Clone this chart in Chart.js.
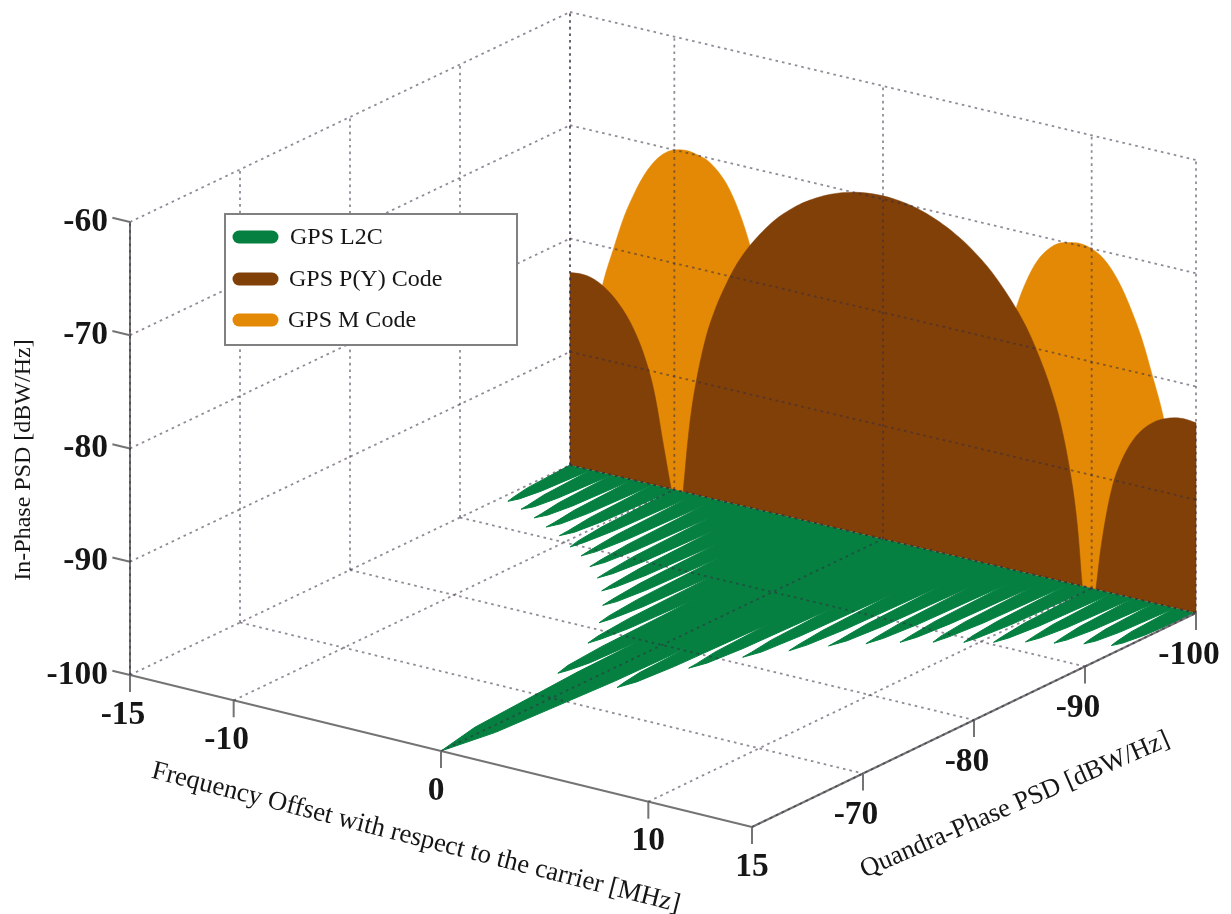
<!DOCTYPE html>
<html><head><meta charset="utf-8">
<style>html,body{margin:0;padding:0;background:#fff}canvas{display:block;filter:blur(0.45px)}</style>
<script src="https://cdn.jsdelivr.net/npm/chart.js@4"></script>
</head><body><canvas id="c" width="1231" height="914"></canvas>
<script>
// ---- tick values ----
const freqTicks = [-15, -10, 0, 10, 15];
const quadTicks = [-60, -70, -80, -90, -100];
const inPhaseTicks = [-60, -70, -80, -90, -100];
const quadLabels = [-70, -80, -90, -100];

// ---- GPS P(Y) Code: on the wall Quadra = -100 ----
const pyFreq = [-15,-15,-14.97,-14.5,-14,-13.5,-13,-12.5,-12,-11.5,-11,-10.5,-10.15,-10.13,-9.6,-9.58,-9.3,-9,-8.5,-8,-7.5,-7,-6.5,-6,-5.5,-5,-4.5,-4,-3.5,-3,-2.5,-2,-1.5,-1,-0.5,0,0.5,1,1.5,2,2.5,3,3.5,4,4.5,5,5.5,6,6.5,7,7.5,8,8.5,9,9.3,9.55,9.57,10.18,10.2,10.5,11,11.5,12,12.5,13,13.5,14,14.5,14.97,15,15];
const pyPsd  = [-100,-83,-83,-82.9,-83,-83.4,-84.1,-85.1,-86.5,-88.5,-91.5,-96.5,-100,-100,-100,-100,-94.5,-90.5,-86,-83,-80.7,-78.75,-77.2,-75.9,-74.75,-73.75,-72.93,-72.2,-71.6,-71.08,-70.65,-70.3,-70.03,-69.85,-69.74,-69.7,-69.74,-69.85,-70.03,-70.3,-70.65,-71.08,-71.6,-72.2,-72.93,-73.75,-74.75,-75.9,-77.2,-78.75,-80.7,-83,-86,-90.5,-94.5,-100,-100,-100,-100,-95.5,-90.5,-87.8,-86,-84.8,-84,-83.5,-83.2,-83.1,-83.2,-83.2,-100];

// ---- GPS M Code: on the same wall ----
const mFreq = [-15,-14.4,-13.9,-13.4,-12.9,-12.4,-11.9,-11.4,-10.9,-10.4,-9.9,-9.4,-8.9,-8.4,-7.9,-7.4,-6.9,-6.4,-5.9,-5.4,-5,5,5.4,5.9,6.4,6.9,7.4,7.9,8.4,8.9,9.4,9.9,10.4,10.9,11.4,11.9,12.4,12.9,13.4,13.9,14.4,15];
const mPsd  = [-100,-93,-87.5,-83.1,-79.9,-76.9,-74.6,-72.7,-71.3,-70.4,-69.95,-69.8,-69.95,-70.25,-71,-72.2,-74.1,-76.7,-80.3,-87,-100,-100,-87,-80.3,-76.7,-74.1,-72.2,-71,-70.25,-69.95,-69.8,-69.95,-70.4,-71.3,-72.7,-74.6,-76.9,-79.9,-83.1,-87.5,-93,-100];

// ---- GPS L2C: in the floor plane In-Phase = -100, one row per side lobe ----
const l2cFreq = [
-15,-14.83,-14.65,-14.55,-14.35,-14.17,
-14,-13.83,-13.65,-13.6,-13.35,-13.17,
-13,-12.83,-12.65,-12.6,-12.35,-12.17,
-12,-11.83,-11.65,-11.6,-11.35,-11.17,
-11,-10.83,-10.65,-10.6,-10.35,-10.17,
-10,-9.83,-9.65,-9.5,-9.35,-9.17,
-9,-8.83,-8.65,-8.55,-8.35,-8.17,
-8,-7.83,-7.65,-7.55,-7.35,-7.17,
-7,-6.83,-6.65,-6.55,-6.35,-6.17,
-6,-5.83,-5.65,-5.55,-5.35,-5.17,
-5,-4.83,-4.65,-4.55,-4.35,-4.17,
-4,-3.83,-3.65,-3.5,-3.35,-3.17,
-3,-2.83,-2.65,-2.5,-2.35,-2.17,
-2,-1.83,-1.65,-1.45,-1.3,-1.12,
-1,-0.9,-0.5,0,0.5,0.9,
1,1.12,1.3,1.4,1.65,1.83,
2,2.17,2.35,2.4,2.65,2.83,
3,3.17,3.35,3.4,3.65,3.83,
4,4.17,4.35,4.45,4.65,4.83,
5,5.17,5.35,5.4,5.65,5.83,
6,6.17,6.35,6.45,6.65,6.83,
7,7.17,7.35,7.45,7.65,7.83,
8,8.17,8.35,8.5,8.65,8.83,
9,9.17,9.35,9.5,9.65,9.83,
10,10.17,10.35,10.45,10.65,10.83,
11,11.17,11.35,11.45,11.65,11.83,
12,12.17,12.35,12.45,12.65,12.83,
13,13.17,13.35,13.45,13.65,13.83,
14,14.17,14.35,14.45,14.65,14.83,
15];
const l2cPsd = [
-100,-95.8,-94.15,-93.5,-94.15,-95.8,
-100,-95.4,-93.6,-92.9,-93.6,-95.4,
-99.9,-94.9,-92.97,-92.2,-92.97,-94.9,
-99.9,-94.4,-92.25,-91.4,-92.25,-94.4,
-99.9,-93.9,-91.6,-90.7,-91.6,-93.8,
-99.5,-93.1,-90.6,-89.6,-90.6,-93.1,
-99.5,-92.5,-89.9,-88.8,-89.8,-92.4,
-99,-91.7,-88.8,-87.7,-88.7,-91.2,
-97.6,-90.4,-87.6,-86.5,-87.5,-89.9,
-96.1,-88.9,-86.1,-85,-85.9,-88.3,
-94.4,-87.1,-84.3,-83.2,-84.1,-86.5,
-92.7,-85,-82.1,-80.9,-81.8,-84.2,
-90.4,-82.3,-79.2,-78,-78.9,-81,
-86.6,-78,-74.6,-73.3,-74,-75.6,
-80,-74,-64,-60,-64,-74,
-80.6,-75.9,-74,-73.3,-74.6,-77.7,
-85.9,-80.7,-78.7,-77.9,-79.1,-82,
-89.6,-83.9,-81.8,-80.9,-82.1,-85.3,
-93.4,-86.7,-84.1,-83.1,-84.4,-87.5,
-95.75,-88.7,-86,-84.9,-86.1,-89,
-96.7,-89.9,-87.3,-86.3,-87.5,-90.4,
-98,-91.2,-88.6,-87.5,-88.6,-91.4,
-98.6,-92,-89.5,-88.5,-89.6,-92.4,
-99.6,-93,-90.4,-89.4,-90.4,-92.9,
-99.3,-93.5,-91.2,-90.3,-91.3,-93.7,
-99.9,-94.3,-92.2,-91.3,-92.2,-94.3,
-100,-94.8,-92.8,-92,-92.8,-94.8,
-100,-95.3,-93.5,-92.8,-93.5,-95.3,
-100,-95.7,-94.05,-93.4,-94.05,-95.7,
-100];

const seriesNames = ['GPS L2C', 'GPS P(Y) Code', 'GPS M Code'];
const seriesColors = ['#058040', '#804008', '#e38905'];

// ---- view: the box projection ----
const view = { sx: [130, 752, 570, 1196], sy: [675, 827, 465, 613], zk: 11.325 };
function project(f, q, z) {
  const u = (f + 15) / 30, v = (-60 - q) / 40;
  const w = [(1 - u) * (1 - v), u * (1 - v), (1 - u) * v, u * v];
  const x = w[0]*view.sx[0] + w[1]*view.sx[1] + w[2]*view.sx[2] + w[3]*view.sx[3];
  const y = w[0]*view.sy[0] + w[1]*view.sy[1] + w[2]*view.sy[2] + w[3]*view.sy[3] - (z + 100) * view.zk;
  return { x, y };
}

function area(label, pts, color, idx, tension, bw) {
  return { label, data: pts, showLine: true, fill: 'shape', pointRadius: 0, borderWidth: bw,
           borderColor: color, backgroundColor: color, borderJoinStyle: 'round', tension, order: idx };
}
const gridColor = 'rgba(52,44,66,0.55)';
function guide(a, b) {
  return { label: 'grid', data: [a, b], showLine: true, fill: false, pointRadius: 0, borderWidth: 1.8,
           borderColor: gridColor, borderDash: [2.6, 4], order: 0 };
}
function solid(a, b) {
  return { label: 'axis', data: [a, b], showLine: true, fill: false, pointRadius: 0, borderWidth: 2,
           borderColor: '#747474', order: 0 };
}

const datasets = [];
datasets.push(area(seriesNames[2], mFreq.map((f, i) => project(f, -100, mPsd[i])), seriesColors[2], 3, 0.35, 0.5));
datasets.push(area(seriesNames[1], pyFreq.map((f, i) => project(f, -100, pyPsd[i])), seriesColors[1], 2, 0.35, 0.5));
datasets.push(area(seriesNames[0], l2cFreq.map((f, i) => project(f, l2cPsd[i], -100)), seriesColors[0], 1, 0, 1));

// grid on the back wall, left wall and floor
freqTicks.forEach(f => {
  datasets.push(guide(project(f, -100, -100), project(f, -100, -60)));
  if (f !== -15) datasets.push(guide(project(f, -60, -100), project(f, -100, -100)));
});
quadTicks.forEach(q => {
  datasets.push(guide(project(-15, q, -100), project(-15, q, -60)));
  if (q !== -60) datasets.push(guide(project(-15, q, -100), project(15, q, -100)));
});
inPhaseTicks.forEach(z => {
  datasets.push(guide(project(-15, -100, z), project(15, -100, z)));
  datasets.push(guide(project(-15, -60, z), project(-15, -100, z)));
});

// solid axes and tick marks
datasets.push(solid(project(-15, -60, -100), project(-15, -60, -60)));
datasets.push(solid(project(-15, -60, -100), project(15, -60, -100)));
datasets.push(solid(project(15, -60, -100), project(15, -100, -100)));
freqTicks.forEach(f => datasets.push(solid(project(f, -60, -100), project(f, -60, -101.5))));
quadTicks.forEach(q => datasets.push(solid(project(15, q, -100), project(15, q, -101.5))));
inPhaseTicks.forEach(z => datasets.push(solid(project(-15, -60, z), project(-15.85, -60, z))));

const textPlugin = {
  id: 'boxText',
  afterDatasetsDraw(chart) {
    const ctx = chart.ctx, sx = chart.scales.x, sy = chart.scales.y;
    const at = p => ({ x: sx.getPixelForValue(p.x), y: sy.getPixelForValue(p.y) });
    ctx.save();
    ctx.fillStyle = '#161616';
    ctx.textBaseline = 'middle';
    ctx.font = 'bold 33.5px "Liberation Serif"';
    ctx.textAlign = 'right';
    inPhaseTicks.forEach(z => { const p = at(project(-15, -60, z)); ctx.fillText(String(z), p.x - 22, p.y); });
    ctx.textAlign = 'center';
    freqTicks.forEach(f => { const p = at(project(f, -60, -100)); ctx.fillText(String(f), p.x - (f < 0 ? 7 : f === 0 ? 5 : 0), p.y + 40); });
    quadLabels.forEach(q => { const p = at(project(15, q, -100)); ctx.fillText(String(q), p.x - 7, p.y + 42); });

    // axis titles
    const title = (t, size, x, y, deg) => { ctx.save(); ctx.font = size + 'px "Liberation Serif"'; ctx.translate(x, y); ctx.rotate(deg * Math.PI / 180); ctx.fillText(t, 0, 0); ctx.restore(); };
    title('In-Phase PSD [dBW/Hz]', 24, 24, 460, -90);
    title('Frequency Offset with respect to the carrier [MHz]', 26.7, 416, 838, 14.3);
    title('Quandra-Phase PSD [dBW/Hz]', 26.4, 1015, 805, -23.4);

    // legend box
    ctx.fillStyle = '#fff';
    ctx.fillRect(225, 214, 292, 131);
    ctx.strokeStyle = '#808080';
    ctx.lineWidth = 2;
    ctx.strokeRect(225, 214, 292, 131);
    const rows = [[237, 290], [279, 289], [320, 288]];
    ctx.lineCap = 'round';
    ctx.lineWidth = 13;
    ctx.textAlign = 'left';
    ctx.font = '24px "Liberation Serif"';
    rows.forEach((r, i) => {
      ctx.strokeStyle = seriesColors[i];
      ctx.beginPath(); ctx.moveTo(239, r[0]); ctx.lineTo(272, r[0]); ctx.stroke();
      ctx.fillStyle = '#161616';
      ctx.fillText(seriesNames[i], r[1], r[0] + 1);
    });
    ctx.restore();
  }
};

new Chart(document.getElementById('c'), {
  type: 'scatter',
  data: { datasets },
  plugins: [textPlugin],
  options: {
    responsive: false, animation: false,
    layout: { padding: 0 },
    plugins: { legend: { display: false }, tooltip: { enabled: false }, title: { display: false } },
    scales: {
      x: { type: 'linear', min: 0, max: 1231, display: false },
      y: { type: 'linear', min: 0, max: 914, reverse: true, display: false }
    }
  }
});
</script></body></html>
